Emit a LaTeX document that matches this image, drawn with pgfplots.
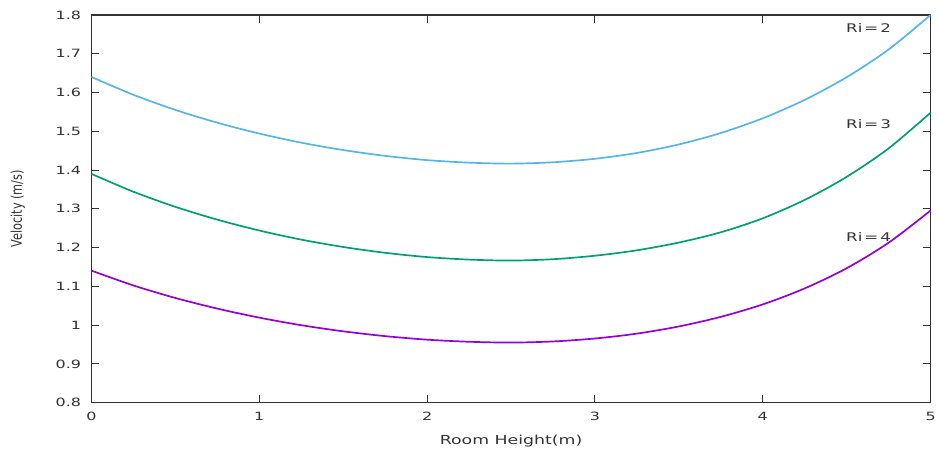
\documentclass[border=0pt]{standalone}
\usepackage{fontspec}
\setmainfont{DejaVu Sans}[FakeStretch=1.4]
\newfontfamily\ylabfont{DejaVu Sans}[FakeStretch=1.0]
\usepackage{pgfplots}
\pgfplotsset{compat=1.18}
\definecolor{cblue}{HTML}{56B4E9}
\definecolor{cgreen}{HTML}{009E73}
\definecolor{cpurple}{HTML}{9400D3}
\definecolor{axgray}{HTML}{333333}
\begin{document}
\begin{tikzpicture}
\begin{axis}[
  name=ax,
  scale only axis,
  width=844bp, height=390bp,
  xmin=0, xmax=5, ymin=0.8, ymax=1.8,
  xtick={0,1,2,3,4,5},
  ytick={0.8,0.9,1,1.1,1.2,1.3,1.4,1.5,1.6,1.7,1.8},
  yticklabels={0.8,0.9,1,1.1,1.2,1.3,1.4,1.5,1.6,1.7,1.8},
  tick align=inside,
  major tick length=8bp,
  tick style={axgray, line width=1pt},
  axis line style={axgray, line width=1.6pt},
  /pgf/number format/assume math mode=true,
  ticklabel style={font=\fontsize{11.5}{13}\selectfont, text=axgray},
  xticklabel style={yshift=-6bp},
  yticklabel style={xshift=-7bp},
  every axis plot/.append style={line width=1.7pt, smooth, no marks},
]
\addplot[cblue] coordinates {(0,1.640) (0.25,1.594) (0.5,1.555) (0.75,1.522) (1,1.494) (1.25,1.4705) (1.5,1.4515) (1.75,1.4365) (2,1.4255) (2.25,1.419) (2.5,1.4165) (2.75,1.420) (3,1.429) (3.25,1.444) (3.5,1.466) (3.75,1.4955) (4,1.5335) (4.25,1.581) (4.5,1.6395) (4.75,1.711) (5,1.800)};
\addplot[cgreen] coordinates {(0,1.390) (0.25,1.344) (0.5,1.305) (0.75,1.272) (1,1.244) (1.25,1.2205) (1.5,1.2015) (1.75,1.1865) (2,1.1755) (2.25,1.169) (2.5,1.1665) (2.75,1.170) (3,1.179) (3.25,1.193) (3.5,1.213) (3.75,1.2395) (4,1.2755) (4.25,1.323) (4.5,1.3825) (4.75,1.456) (5,1.548)};
\addplot[cpurple] coordinates {(0,1.1405) (0.25,1.1023) (0.5,1.070) (0.75,1.0426) (1,1.0193) (1.25,0.9998) (1.5,0.984) (1.75,0.9716) (2,0.9625) (2.25,0.9571) (2.5,0.955) (2.75,0.9579) (3,0.9655) (3.25,0.9781) (3.5,0.9966) (3.75,1.0214) (4,1.0535) (4.25,1.0948) (4.5,1.1468) (4.75,1.2127) (5,1.2956)};
\node[font=\fontsize{12}{14}\selectfont, text=axgray] at (axis cs:4.63,1.767) {Ri\,=\,2};
\node[font=\fontsize{12}{14}\selectfont, text=axgray] at (axis cs:4.63,1.518) {Ri\,=\,3};
\node[font=\fontsize{12}{14}\selectfont, text=axgray] at (axis cs:4.63,1.228) {Ri\,=\,4};
\end{axis}
\node[font=\fontsize{12.5}{14}\selectfont, text=axgray] at ([yshift=-39bp]ax.south) {Room Height(m)};
\node[text=axgray, rotate=90, inner sep=0pt] at ([xshift=-74bp]ax.west) {\scalebox{1}[1.3]{\resizebox{78bp}{!}{\ylabfont Velocity (m/s)}}};
\useasboundingbox (ax.south west) ++(-92bp,-45bp) rectangle ([xshift=3bp,yshift=15bp]ax.north east);
\end{tikzpicture}
\end{document}
